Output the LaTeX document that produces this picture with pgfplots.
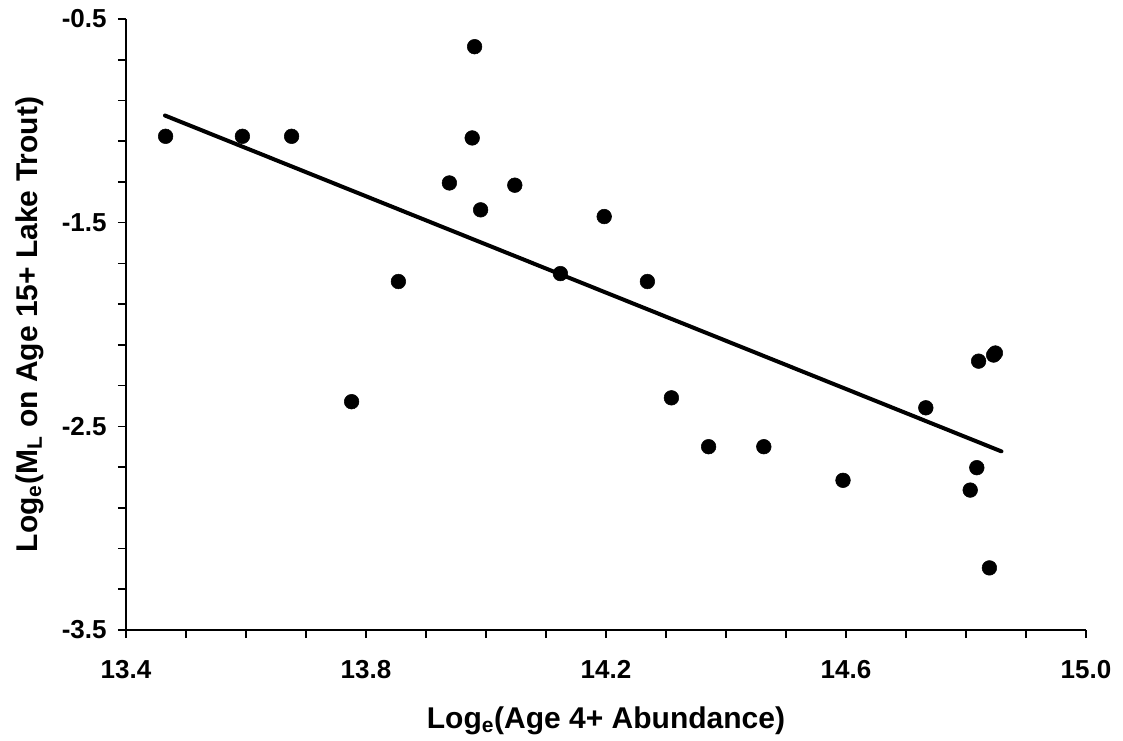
\documentclass[border=0pt]{standalone}
\usepackage{fontspec}
\setmainfont{Liberation Sans}
\usepackage{pgfplots}
\pgfplotsset{compat=1.18}
\newcommand{\tl}[1]{\mbox{\fontsize{19.5}{22}\selectfont\bfseries\pgfmathprintnumber[assume math mode=true,fixed,fixed zerofill,precision=1]{#1}}}
\begin{document}
\begin{tikzpicture}
\begin{axis}[
  at={(0,0)}, anchor=south west,
  scale only axis,
  width=720pt, height=458.25pt,
  xmin=13.4, xmax=15.0,
  ymin=-3.5, ymax=-0.5,
  axis x line*=bottom, axis y line*=left,
  axis line style={line width=1.3pt},
  xtick={13.4,13.8,14.2,14.6,15.0},
  ytick={-3.5,-2.5,-1.5,-0.5},
  minor x tick num=3,
  minor y tick num=4,
  tick align=outside,
  major tick length=6pt, minor tick length=6pt,
  tick style={line width=1.2pt, black},
  xticklabel={\tl{\tick}},
  yticklabel={\tl{\tick}},
  xticklabel style={anchor=base, yshift=-30pt},
  yticklabel style={anchor=east, xshift=-5pt},
  xlabel={\textbf{Log\textsubscript{e}(Age 4+ Abundance)}},
  ylabel={\textbf{Log\textsubscript{e}(M\textsubscript{L} on Age 15+ Lake Trout)}},
  label style={font=\fontsize{22.5}{26}\selectfont\bfseries},
  xlabel style={at={(axis description cs:0.5,-0.1604)}, anchor=base},
  ylabel style={at={(axis description cs:-0.0927,0.5)}, anchor=base},
  clip=false,
]
\addplot[only marks, mark=*, mark size=5.5pt, black] coordinates {
(13.466,-1.076) (13.594,-1.076) (13.676,-1.076)
(13.776,-2.379) (13.854,-1.789) (13.939,-1.305)
(13.977,-1.084) (13.981,-0.636) (13.991,-1.437)
(14.048,-1.316) (14.124,-1.750) (14.197,-1.470)
(14.269,-1.789) (14.309,-2.360) (14.371,-2.600)
(14.463,-2.600) (14.595,-2.765) (14.733,-2.409)
(14.807,-2.813) (14.818,-2.703) (14.821,-2.180)
(14.839,-3.195) (14.846,-2.150) (14.849,-2.140)
};
\addplot[black, line width=3pt, line cap=round] coordinates {(13.465,-0.974) (14.859,-2.623)};
\end{axis}
\pgfresetboundingbox
\path[use as bounding box] (-94.5pt,-82.5pt) rectangle (747.75pt,472.5pt);
\end{tikzpicture}
\end{document}
